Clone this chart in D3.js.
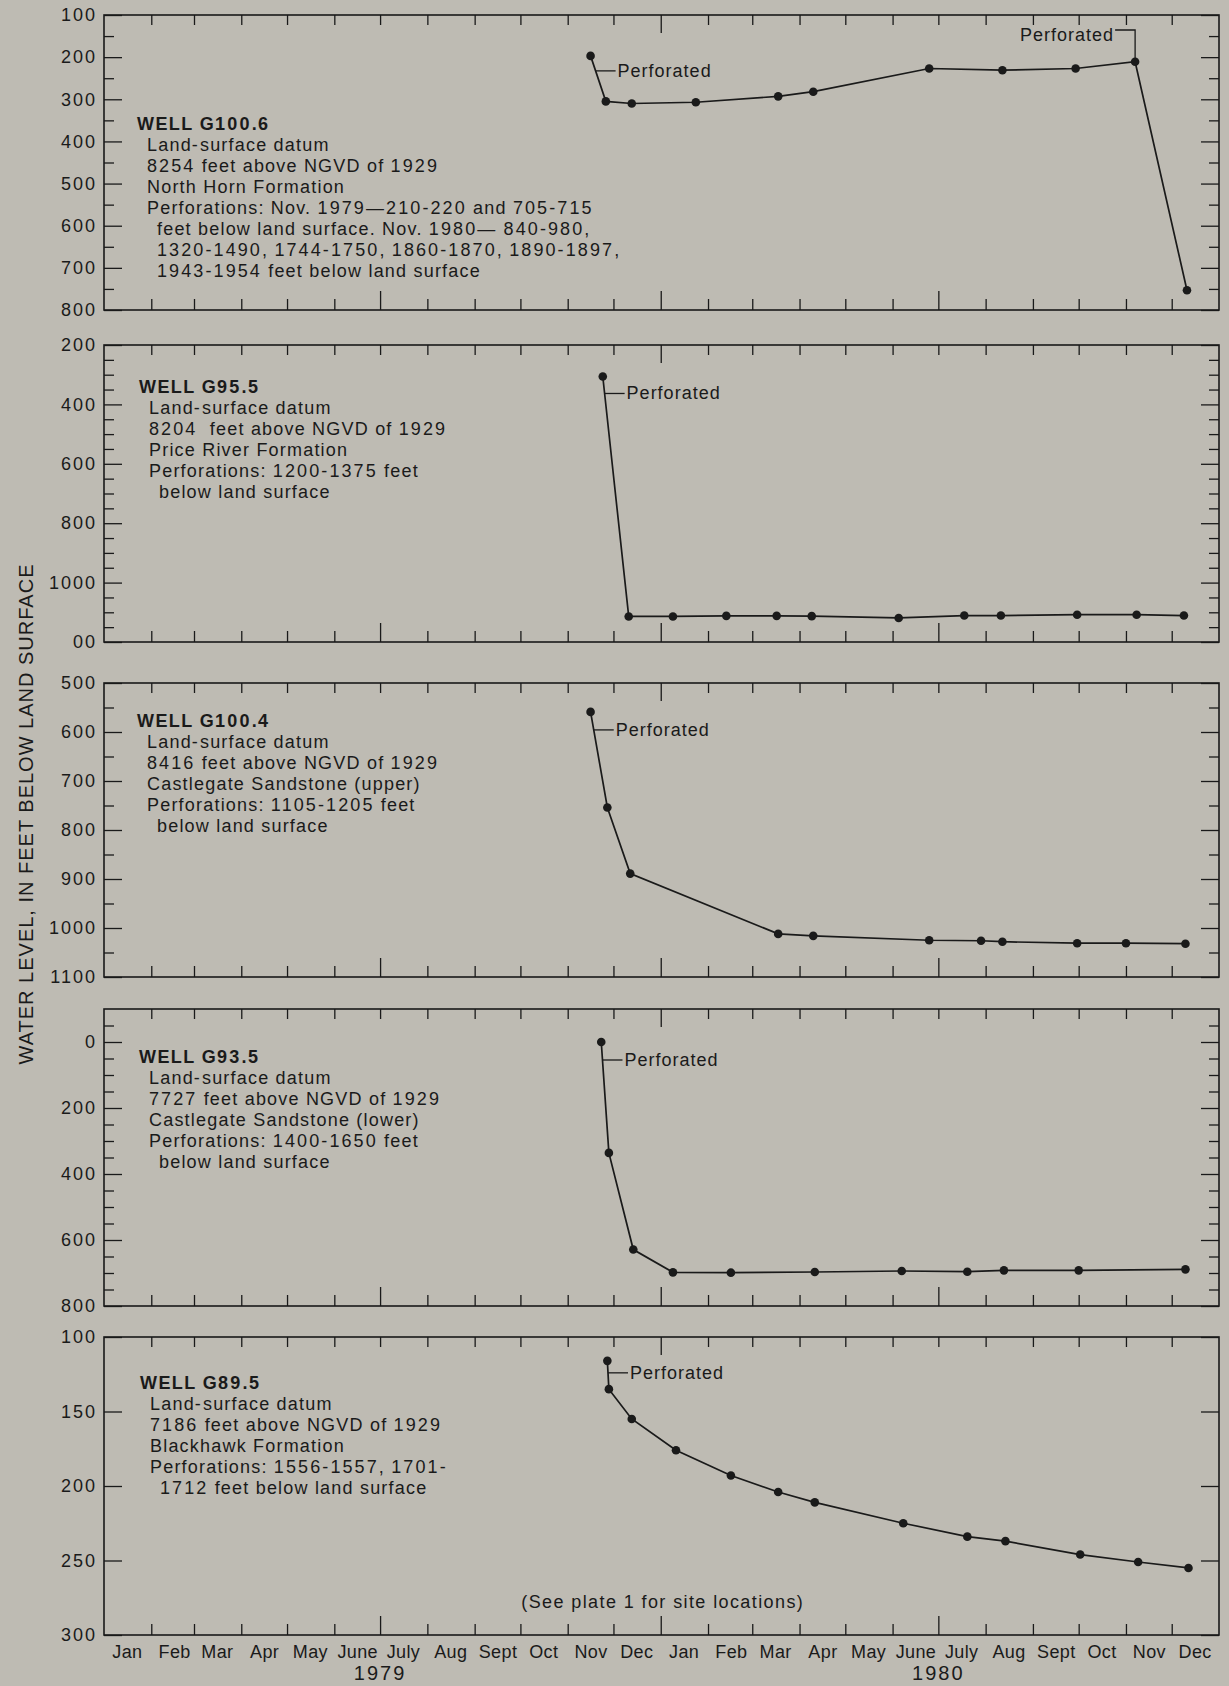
<!DOCTYPE html>
<meta charset="utf-8">
<style>
  body { margin: 0; background: #bebbb3; }
  svg text { font-family: "Liberation Sans", Arial, sans-serif; fill: #1a1a1a; white-space: pre; }
</style>
<svg id="chart" width="1229" height="1686"></svg>
<script src="https://cdn.jsdelivr.net/npm/d3@7"></script>
<script>
  var monthNames = ["Jan", "Feb", "Mar", "Apr", "May", "June", "July", "Aug", "Sept", "Oct", "Nov", "Dec"];
  var years = [1979, 1980];

  // WELL G100.6
  var g1006Dates = ["1979-11-16", "1979-11-26", "1979-12-13", "1980-01-24", "1980-03-18", "1980-04-10", "1980-06-25", "1980-08-12", "1980-09-29", "1980-11-07", "1980-12-11"];
  var g1006Levels = [197, 305, 310, 307, 293, 282, 227, 231, 227, 211, 753];
  var g1006Ticks = [100, 200, 300, 400, 500, 600, 700, 800];
  var g1006Notes = ["Land-surface datum", "8254 feet above NGVD of 1929", "North Horn Formation",
    "Perforations: Nov. 1979\u2014210-220 and 705-715", "feet below land surface. Nov. 1980\u2014 840-980,",
    "1320-1490, 1744-1750, 1860-1870, 1890-1897,", "1943-1954 feet below land surface"];

  // WELL G95.5
  var g955Dates = ["1979-11-24", "1979-12-11", "1980-01-09", "1980-02-13", "1980-03-17", "1980-04-09", "1980-06-05", "1980-07-18", "1980-08-11", "1980-09-30", "1980-11-08", "1980-12-09"];
  var g955Levels = [306, 1114, 1114, 1112, 1112, 1113, 1119, 1111, 1111, 1108, 1108, 1111];
  var g955Ticks = [200, 400, 600, 800, 1000, 1200];
  var g955TickLabels = ["200", "400", "600", "800", "1000", "00"];
  var g955Notes = ["Land-surface datum", "8204  feet above NGVD of 1929", "Price River Formation",
    "Perforations: 1200-1375 feet", "below land surface"];

  // WELL G100.4
  var g1004Dates = ["1979-11-16", "1979-11-27", "1979-12-12", "1980-03-18", "1980-04-10", "1980-06-25", "1980-07-29", "1980-08-12", "1980-09-30", "1980-11-01", "1980-12-10"];
  var g1004Levels = [559, 754, 889, 1012, 1016, 1025, 1026, 1028, 1031, 1031, 1032];
  var g1004Ticks = [500, 600, 700, 800, 900, 1000, 1100];
  var g1004Notes = ["Land-surface datum", "8416 feet above NGVD of 1929", "Castlegate Sandstone (upper)",
    "Perforations: 1105-1205 feet", "below land surface"];

  // WELL G93.5
  var g935Dates = ["1979-11-23", "1979-11-28", "1979-12-14", "1980-01-09", "1980-02-16", "1980-04-11", "1980-06-07", "1980-07-20", "1980-08-13", "1980-10-01", "1980-12-10"];
  var g935Levels = [0, 336, 629, 698, 699, 697, 694, 696, 692, 692, 689];
  var g935Ticks = [0, 200, 400, 600, 800];
  var g935Notes = ["Land-surface datum", "7727 feet above NGVD of 1929", "Castlegate Sandstone (lower)",
    "Perforations: 1400-1650 feet", "below land surface"];

  // WELL G89.5
  var g895Dates = ["1979-11-27", "1979-11-28", "1979-12-13", "1980-01-11", "1980-02-16", "1980-03-18", "1980-04-11", "1980-06-08", "1980-07-20", "1980-08-14", "1980-10-02", "1980-11-09", "1980-12-12"];
  var g895Levels = [116, 135, 155, 176, 193, 204, 211, 225, 234, 237, 246, 251, 255];
  var g895Ticks = [100, 150, 200, 250, 300];
  var g895Notes = ["Land-surface datum", "7186 feet above NGVD of 1929", "Blackhawk Formation",
    "Perforations: 1556-1557, 1701-", "1712 feet below land surface"];

  var ink = "#1a1a1a";
  var parse = d3.timeParse("%Y-%m-%d");
  var svg = d3.select("#chart");
  var x0 = 104, x1 = 1219;

  var x = d3.scaleTime()
    .domain([new Date(1979, 0, 1), new Date(1981, 0, 1)])
    .range([x0, x1]);

  var panels = [
    { name: "WELL G100.6", dates: g1006Dates, levels: g1006Levels, ticks: g1006Ticks, labels: g1006Ticks.map(String),
      notes: g1006Notes, wrapFrom: 4, top: 15, bottom: 310, domain: [100, 800], minor: 50, noteX: 33, noteY: 115, leaderDy: 15 },
    { name: "WELL G95.5", dates: g955Dates, levels: g955Levels, ticks: g955Ticks, labels: g955TickLabels,
      notes: g955Notes, wrapFrom: 4, top: 345, bottom: 642, domain: [200, 1200], minor: 50, noteX: 35, noteY: 48, leaderDy: 17 },
    { name: "WELL G100.4", dates: g1004Dates, levels: g1004Levels, ticks: g1004Ticks, labels: g1004Ticks.map(String),
      notes: g1004Notes, wrapFrom: 4, top: 683, bottom: 977, domain: [500, 1100], minor: 50, noteX: 33, noteY: 44, leaderDy: 18 },
    { name: "WELL G93.5", dates: g935Dates, levels: g935Levels, ticks: g935Ticks, labels: g935Ticks.map(String),
      notes: g935Notes, wrapFrom: 4, top: 1009, bottom: 1306, domain: [-100, 800], minor: 50, noteX: 35, noteY: 54, leaderDy: 18 },
    { name: "WELL G89.5", dates: g895Dates, levels: g895Levels, ticks: g895Ticks, labels: g895Ticks.map(String),
      notes: g895Notes, wrapFrom: 4, top: 1337, bottom: 1635, domain: [100, 300], minor: 0, noteX: 36, noteY: 52, leaderDy: 12 }
  ];

  var monthTicks = d3.timeMonth.range(new Date(1979, 1, 1), new Date(1981, 0, 1));
  var isYearTick = d => d.getMonth() === 0;
  var isHalfTick = d => d.getMonth() === 0 || d.getMonth() === 6;

  function styleAxis(sel) {
    sel.attr("color", ink).attr("font-family", null).attr("font-size", null);
    sel.select(".domain").remove();
    sel.selectAll(".tick line").attr("stroke-width", 1.3);
  }

  // the original type sets figures wider than letters: space digit runs a bit more
  function spacedText(sel, text, letterSpacing, digitSpacing) {
    text.split(/([\d\-\u2014]+)/).filter(s => s.length).forEach(s => {
      sel.append("tspan")
        .style("letter-spacing", (/^[\d\-\u2014]+$/.test(s) ? digitSpacing : letterSpacing) + "px")
        .text(s);
    });
  }

  function drawPanel(p, k) {
    var y = d3.scaleLinear().domain(p.domain).range([p.top, p.bottom]);
    var g = svg.append("g");
    var minorVals = p.minor ? d3.range(p.domain[0] + p.minor, p.domain[1], p.minor).filter(v => p.ticks.indexOf(v) < 0) : [];

    // left and right ticks, pointing inward
    g.append("g").attr("transform", `translate(${x0},0)`)
      .call(d3.axisLeft(y).tickValues(minorVals).tickSize(-10).tickFormat("")).call(styleAxis);
    g.append("g").attr("transform", `translate(${x1},0)`)
      .call(d3.axisRight(y).tickValues(minorVals).tickSize(-10).tickFormat("")).call(styleAxis);
    g.append("g").attr("transform", `translate(${x1},0)`)
      .call(d3.axisRight(y).tickValues(p.ticks).tickSize(-18).tickFormat("")).call(styleAxis);
    var left = g.append("g").attr("transform", `translate(${x0},0)`)
      .call(d3.axisLeft(y).tickValues(p.ticks).tickSizeInner(-18).tickSizeOuter(0).tickPadding(7)
        .tickFormat(d => p.labels[p.ticks.indexOf(d)]))
      .call(styleAxis);
    left.selectAll("text").attr("font-size", 18).style("letter-spacing", "2px").attr("fill", ink);

    // month ticks top and bottom
    g.append("g").attr("transform", `translate(0,${p.top})`)
      .call(d3.axisTop(x).tickValues(monthTicks.filter(d => !isYearTick(d))).tickSize(-10).tickFormat("")).call(styleAxis);
    g.append("g").attr("transform", `translate(0,${p.top})`)
      .call(d3.axisTop(x).tickValues(monthTicks.filter(isYearTick)).tickSize(-18).tickFormat("")).call(styleAxis);
    g.append("g").attr("transform", `translate(0,${p.bottom})`)
      .call(d3.axisBottom(x).tickValues(monthTicks.filter(d => !isHalfTick(d))).tickSize(-11).tickFormat("")).call(styleAxis);
    g.append("g").attr("transform", `translate(0,${p.bottom})`)
      .call(d3.axisBottom(x).tickValues(monthTicks.filter(isHalfTick)).tickSize(-19).tickFormat("")).call(styleAxis);

    // frame
    g.append("rect")
      .attr("x", x0).attr("y", p.top)
      .attr("width", x1 - x0).attr("height", p.bottom - p.top)
      .attr("fill", "none").attr("stroke", ink).attr("stroke-width", 1.6);

    // well description
    var tx = x0 + p.noteX, ty = p.top + p.noteY;
    var title = g.append("text").attr("x", tx).attr("y", ty)
      .attr("font-size", 18).attr("font-weight", "bold");
    spacedText(title, p.name, 1.4, 2.2);
    p.notes.forEach((d, i) => {
      var t = g.append("text")
        .attr("x", tx + (i >= p.wrapFrom ? 20 : 10))
        .attr("y", ty + 21 * (i + 1))
        .attr("font-size", 18);
      spacedText(t, d, 1.2, 2.1);
    });

    // series
    var pts = p.dates.map((d, i) => ({ date: parse(d), level: p.levels[i] }));
    var line = d3.line().x(d => x(d.date)).y(d => y(d.level));
    g.append("path").datum(pts)
      .attr("d", line).attr("fill", "none")
      .attr("stroke", ink).attr("stroke-width", 1.7);
    g.selectAll("circle").data(pts).join("circle")
      .attr("cx", d => x(d.date)).attr("cy", d => y(d.level))
      .attr("r", 4.3).attr("fill", ink);

    // "Perforated" leader from first segment
    var ax = x(pts[0].date), ay = y(pts[0].level);
    var bx = x(pts[1].date), by = y(pts[1].level);
    var ly = ay + p.leaderDy;
    var lx = ax + (bx - ax) * (ly - ay) / (by - ay);
    g.append("line").attr("x1", lx).attr("y1", ly).attr("x2", lx + 20).attr("y2", ly)
      .attr("stroke", ink).attr("stroke-width", 1.3);
    g.append("text").attr("x", lx + 22).attr("y", ly + 6)
      .attr("font-size", 18).style("letter-spacing", "1px").text("Perforated");

    // second perforation on G100.6
    if (k === 0) {
      var last = pts[pts.length - 2];
      var px = x(last.date), py = y(last.level);
      g.append("path")
        .attr("d", `M${px},${py}V${p.top + 15}H${px - 20}`)
        .attr("fill", "none").attr("stroke", ink).attr("stroke-width", 1.3);
      g.append("text").attr("x", px - 21).attr("y", p.top + 26)
        .attr("text-anchor", "end")
        .attr("font-size", 18).style("letter-spacing", "1px").text("Perforated");
    }

    if (k === panels.length - 1) {
      // month and year labels
      var midMonths = d3.timeMonth.range(new Date(1979, 0, 1), new Date(1981, 0, 1))
        .map(d => new Date(d.getFullYear(), d.getMonth(), 16));
      var bottom = g.append("g").attr("transform", `translate(0,${p.bottom})`)
        .call(d3.axisBottom(x).tickValues(midMonths).tickSize(0).tickPadding(10)
          .tickFormat(d => monthNames[d.getMonth()]))
        .call(styleAxis);
      bottom.selectAll("text").attr("font-size", 18).style("letter-spacing", "0.4px").attr("fill", ink);
      g.selectAll("text.year").data(years).join("text").attr("class", "year")
        .attr("x", d => x(new Date(d, 6, 1)))
        .attr("y", 1680)
        .attr("text-anchor", "middle")
        .attr("font-size", 20).style("letter-spacing", "2px")
        .text(d => d);
      g.append("text")
        .attr("x", x(new Date(1980, 0, 1)) + 2).attr("y", p.bottom - 27)
        .attr("text-anchor", "middle")
        .attr("font-size", 18).style("letter-spacing", "1.4px")
        .text("(See plate 1 for site locations)");
    }
  }

  panels.forEach(drawPanel);

  svg.append("text")
    .attr("transform", "translate(33,814) rotate(-90)")
    .attr("text-anchor", "middle")
    .attr("font-size", 20).style("letter-spacing", "1px")
    .text("WATER LEVEL, IN FEET BELOW LAND SURFACE");
</script>
